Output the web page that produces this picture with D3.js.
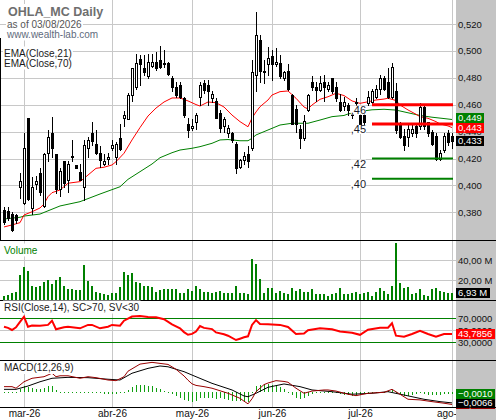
<!DOCTYPE html>
<html lang="es">
<head>
<meta charset="utf-8">
<title>OHLA_MC Daily</title>
<script src="https://d3js.org/d3.v7.min.js"></script>
<style>
  html, body { margin: 0; padding: 0; background: #fff; }
  svg { display: block; font-family: "Liberation Sans", Arial, sans-serif; }
</style>
</head>
<body>
<svg id="chart" width="496" height="420"></svg>
<script>
// ---- data (one entry per trading day, 23 feb .. 03 ago 2026) ----
const opens  = [.382,.381,.379,.378,.399,.387,.450,.383,.401,.409,.385,.424,.439,.423,.397,.418,.404,.421,.415,.410,
                .399,.428,.439,.431,.424,.416,.420,.428,.421,.435,.450,.449,.467,.473,.494,.487,.481,.489,.492,.493,
                .490,.491,.480,.473,.475,.465,.446,.443,.447,.466,.476,.475,.465,.463,.454,.444,.439,.439,.431,.414,
                .419,.423,.428,.482,.508,.484,.490,.496,.490,.491,.480,.485,.467,.457,.442,.435,.456,.477,.473,.471,
                .477,.472,.480,.473,.462,.459,.460,.456,.461,.452,.452,.461,.462,.466,.472,.480,.477,.466,.470,.445,
                .437,.436,.439,.444,.444,.458,.447,.440,.437,.420,.426,.439,.437];
const highs  = [.384,.384,.380,.379,.409,.439,.450,.406,.407,.413,.424,.441,.451,.423,.413,.418,.418,.434,.415,.416,
                .434,.436,.447,.441,.429,.423,.424,.434,.432,.446,.455,.469,.487,.498,.497,.497,.498,.498,.499,.504,
                .501,.492,.481,.477,.477,.466,.450,.449,.454,.477,.478,.478,.470,.465,.456,.451,.445,.440,.432,.420,
                .425,.429,.493,.529,.512,.493,.503,.501,.502,.497,.485,.490,.468,.460,.445,.452,.468,.481,.477,.481,
                .482,.477,.480,.477,.468,.466,.461,.457,.465,.457,.456,.470,.472,.475,.482,.481,.487,.491,.476,.447,
                .442,.445,.445,.445,.461,.460,.447,.441,.439,.426,.439,.441,.439];
const lows   = [.371,.374,.366,.372,.391,.386,.389,.379,.397,.393,.384,.418,.421,.394,.392,.399,.395,.418,.413,.404,
                .389,.421,.430,.423,.414,.415,.416,.426,.416,.426,.444,.449,.463,.472,.475,.482,.480,.488,.486,.487,
                .488,.482,.470,.466,.465,.451,.436,.441,.442,.460,.469,.460,.462,.450,.440,.440,.436,.432,.409,.413,
                .416,.414,.426,.470,.477,.476,.482,.478,.489,.480,.478,.471,.446,.440,.428,.434,.455,.471,.463,.470,
                .463,.470,.469,.463,.455,.456,.452,.450,.456,.446,.446,.460,.461,.465,.468,.471,.465,.465,.439,.435,
                .426,.429,.437,.436,.442,.442,.437,.430,.419,.419,.425,.430,.428];
const closes = [.373,.376,.367,.374,.403,.428,.390,.399,.403,.395,.423,.436,.428,.397,.411,.402,.416,.422,.413,.404,
                .430,.434,.433,.424,.419,.418,.421,.430,.431,.427,.452,.467,.487,.491,.490,.484,.492,.492,.487,.488,
                .491,.483,.473,.467,.466,.452,.441,.444,.452,.475,.471,.470,.468,.450,.443,.449,.443,.434,.413,.419,
                .422,.418,.484,.512,.485,.485,.495,.490,.492,.481,.484,.472,.446,.446,.435,.448,.467,.473,.471,.476,
                .473,.475,.470,.465,.456,.462,.456,.452,.462,.446,.447,.466,.470,.472,.480,.472,.466,.488,.441,.436,
                .430,.442,.442,.439,.458,.444,.439,.431,.420,.424,.437,.432,.433];
// volume in millions
const volumes = [4.3,5,6.7,8.3,25,33.3,29.3,14,13.3,14,18.3,20,16,20,23.3,14,11,11,10,10,
                 35,19.3,14,8.3,7.3,5.7,5,7.3,7.3,13.3,28.3,25,27.3,18.3,17.3,14,14,13.3,8.3,10,
                 10.7,10.7,10.7,10.7,7.3,7.3,10.7,9,14,10.7,8.3,8.3,7.3,8.3,9,7.3,7.3,6.7,14,6.7,
                 6.7,6,41,35.7,21,7.3,11.7,11.7,7.3,9,6.7,5.7,11.7,9.3,10.7,8.3,7.7,10.7,6,6,
                 6,4.3,6,7.3,11.7,5.7,5.7,6.7,8.3,5.7,6.7,8.3,4.3,8.3,11.7,9.3,6,14,56.7,17.3,
                 11.7,13.3,5.7,7.3,10.7,5,4.3,10.7,11.7,9,8.3,6.7,6.93];
const macdHist = [.0003,.0003,.0003,.0005,.0020,.0038,.0034,.0027,.0021,.0021,.0027,.0038,.0042,.0017,.0006,.0002,.0001,0,-.0002,-.0004,
                  .0002,.0004,.0004,.0002,-.0002,-.0008,-.0008,-.0008,-.0008,-.0006,.0006,.0017,.0034,.0046,.0049,.0046,.0042,.0038,.0027,.0021,
                  .0011,0,-.0008,-.0025,-.0036,-.0046,-.0057,-.0063,-.0051,-.0036,-.0036,-.0036,-.0036,-.0042,-.0036,-.0042,-.0046,-.0051,-.0057,-.0057,
                  -.0057,-.0060,0,.0038,.0049,.0053,.0053,.0049,.0042,.0034,.0021,.0006,-.0015,-.0036,-.0042,-.0036,-.0021,-.0008,-.0004,.0004,
                  .0004,-.0004,-.0004,-.0004,-.0008,-.0015,-.0017,-.0021,-.0015,-.0015,-.0004,.0004,.0002,.0004,.0002,.0006,.0011,.0017,-.0004,-.0015,
                  -.0025,-.0021,-.0015,-.0011,-.0004,-.0008,-.0013,-.0013,-.0017,-.0013,-.0011,-.0008,-.0010];

// indicator lines, [day index, value]
const ema21 = [[0,.3691],[2,.3706],[4,.3723],[5,.3780],[7,.3804],[9,.3832],[10,.3862],[11,.3916],[12,.3946],[14,.3966],
  [16,.4016],[19,.4028],[21,.4077],[23,.4127],[25,.4135],[27,.4152],[28,.4176],[30,.4239],[32,.4338],[34,.4430],
  [36,.4516],[38,.4575],[40,.4620],[42,.4650],[44,.4650],[46,.4628],[48,.4601],[49,.4590],[51,.4620],[53,.4615],
  [55,.4583],[57,.4523],[59,.4474],[61,.4436],[62,.4501],[63,.4546],[64,.4585],[66,.4635],[67,.4672],[69,.4697],
  [71,.4702],[73,.4648],[75,.4583],[76,.4568],[77,.4598],[79,.4640],[81,.4659],[83,.4685],[85,.4668],[87,.4628],
  [89,.4610],[91,.4622],[93,.4635],[95,.4642],[96,.4648],[98,.4631],[99,.4598],[101,.4561],[103,.4529],[104,.4511],
  [106,.4499],[108,.4474],[109,.4457],[111,.4442],[112,.4430]];
const ema70 = [[0,.3750],[4,.3763],[5,.3772],[9,.3787],[14,.3847],[19,.3879],[24,.3936],[29,.3990],[31,.4045],[34,.4102],
  [37,.4159],[39,.4206],[42,.4243],[44,.4263],[47,.4276],[49,.4288],[52,.4313],[54,.4338],[56,.4341],[59,.4332],
  [61,.4332],[62,.4350],[63,.4375],[66,.4412],[69,.4449],[72,.4462],[76,.4462],[79,.4486],[82,.4511],[85,.4520],
  [86,.4531],[89,.4550],[92,.4562],[95,.4566],[98,.4560],[101,.4540],[104,.4520],[107,.4507],[110,.4497],[112,.4490]];
const rsi = [[0,56],[1,54],[2,50.5],[3,55],[4,64],[5,72.7],[6,56],[7,58],[9,57.7],[11,59],[12,66],[13,51.7],[15,55],
  [16,56],[19,53.3],[21,59],[22,59],[24,53.3],[26,56],[27,59],[29,57.7],[30,66],[32,73],[34,74],[36,72],[38,71.7],
  [40,68.5],[42,60],[44,53.3],[45,47],[46,42.5],[47,44],[48,48],[49,57],[50,54],[52,52],[53,46.5],[55,43.5],[56,41],
  [58,33.8],[59,36],[60,38.3],[61,40],[62,59],[63,67],[64,60.5],[66,60],[69,59],[71,55.5],[73,44],[75,44.5],[76,50],
  [79,53.3],[82,51.7],[84,48],[87,46],[89,42.5],[91,51],[94,54.3],[96,54.3],[97,61.7],[98,41],[100,39.3],[102,43.8],
  [104,49.3],[106,43.8],[108,39.3],[110,43.8],[112,43.7856]];
const macd = [[0,.0037],[2,.0037],[3,.0027],[5,.0068],[7,.0090],[10,.0100],[12,.0122],[13,.0100],[14,.0106],[16,.0106],
  [19,.0090],[21,.0100],[23,.0094],[26,.0079],[28,.0075],[30,.0100],[31,.0135],[34,.0180],[37,.0191],[41,.0178],
  [43,.0147],[45,.0105],[46,.0078],[47,.0055],[48,.0045],[50,.0037],[52,.0027],[56,-.0005],[59,-.0037],[60,-.0055],
  [61,-.0072],[62,-.0040],[63,.0005],[65,.0050],[66,.0060],[68,.0075],[70,.0070],[71,.0065],[73,.0027],[75,-.0005],
  [77,.0009],[80,.0016],[81,.0016],[83,.0009],[86,-.0011],[88,-.0020],[91,-.0005],[95,.0001],[97,.0020],[99,-.0011],
  [101,-.0043],[104,-.0047],[107,-.0058],[110,-.0068],[112,-.0076]];
const macdSignal = [[0,.0020],[3,.0020],[6,.0041],[9,.0068],[12,.0090],[16,.0096],[21,.0094],[26,.0084],[29,.0079],
  [32,.0122],[36,.0153],[39,.0168],[41,.0163],[45,.0132],[48,.0100],[52,.0058],[57,.0016],[60,-.0022],[61,-.0027],
  [63,-.0005],[66,.0033],[70,.0054],[74,.0037],[77,.0016],[82,.0005],[87,-.0011],[92,-.0005],[96,.0005],[100,-.0016],
  [105,-.0043],[109,-.0058],[112,-.0066]];

// support / resistance lines drawn from day 92 to the end
const levelValues = [0.460, 0.4457, 0.420, 0.405];
const levelLabels = [",46", ",45", ",42", ",40"];
const levelKinds  = ["res", "res", "sup", "sup"];
const levelStart = 92;

const monthLabels = ["mar-26", "abr-26", "may-26", "jun-26", "jul-26", "ago-26"];
const monthStarts = [5, 27, 47, 67, 89, 112];
const priceTicks = [0.38, 0.40, 0.42, 0.44, 0.46, 0.48, 0.50, 0.52];
const volumeTicks = [20, 40];
const rsiTicks = [30, 50, 70];

// ---- layout ----
const W = 496, H = 420, plotR = 456;
const pane = { price: [0, 240], vol: [240, 300], rsi: [300, 360], macd: [360, 407] };

const svg = d3.select("#chart");
const loc = d3.formatLocale({ decimal: ",", thousands: ".", grouping: [3], currency: ["", ""] });
const f2 = loc.format(".2f"), f3 = loc.format(".3f"), f4 = loc.format(".4f");

const last = closes.length - 1;
const x = d3.scaleLinear().domain([0, last]).range([4, 452]);
const yPrice = d3.scaleLinear().domain([0.38, 0.52]).range([212.3, 24]);
const yVol = d3.scaleLinear().domain([0, 40]).range([300, 260]);
const yRsi = d3.scaleLinear().domain([0, 100]).range([360.3, 300.3]);
const yMacd = d3.scaleLinear().domain([-0.0092, 0.0206]).range([407, 360]);

const candles = d3.range(closes.length).map(i => ({ i, o: opens[i], h: highs[i], l: lows[i], c: closes[i] }));

svg.append("rect").attr("width", W).attr("height", H).attr("fill", "#fff");

const defs = svg.append("defs");
Object.entries(pane).forEach(([k, [t, b]]) => {
  defs.append("clipPath").attr("id", "clip-" + k)
    .append("rect").attr("x", 0).attr("y", t + 1).attr("width", plotR).attr("height", b - t - 1);
});

// ---- grid ----
const grid = svg.append("g").attr("stroke", "#c8c8c8").attr("stroke-width", 1);
monthStarts.forEach(i => {
  const gx = Math.round(x(i)) + 0.5;
  grid.append("line").attr("x1", gx).attr("x2", gx).attr("y1", 0).attr("y2", 407);
});
priceTicks.forEach(v => {
  const gy = Math.round(yPrice(v)) + 0.5;
  grid.append("line").attr("x1", 0).attr("x2", plotR).attr("y1", gy).attr("y2", gy);
});
volumeTicks.forEach(v => {
  const gy = Math.round(yVol(v)) + 0.5;
  grid.append("line").attr("x1", 0).attr("x2", plotR).attr("y1", gy).attr("y2", gy);
});
{
  const gy = Math.round(yRsi(50)) + 0.5;
  grid.append("line").attr("x1", 0).attr("x2", plotR).attr("y1", gy).attr("y2", gy);
}
[30, 70].forEach(v => {
  const gy = Math.round(yRsi(v)) + 0.5;
  svg.append("line").attr("x1", 0).attr("x2", plotR).attr("y1", gy).attr("y2", gy)
    .attr("stroke", "#008000");
});

// ---- price pane ----
const gPrice = svg.append("g").attr("clip-path", "url(#clip-price)");
const lineOf = ys => d3.line().x(d => x(d[0])).y(d => ys(d[1]));

gPrice.append("path").datum(ema70).attr("d", lineOf(yPrice))
  .attr("fill", "none").attr("stroke", "#008000").attr("stroke-width", 1);
gPrice.append("path").datum(ema21).attr("d", lineOf(yPrice))
  .attr("fill", "none").attr("stroke", "#ff0000").attr("stroke-width", 1);

const cg = gPrice.selectAll("g.candle").data(candles).join("g").attr("class", "candle");
cg.append("line")
  .attr("x1", d => Math.round(x(d.i)) + 0.5).attr("x2", d => Math.round(x(d.i)) + 0.5)
  .attr("y1", d => Math.round(yPrice(d.h))).attr("y2", d => Math.round(yPrice(d.l)) + 1)
  .attr("stroke", "#000");
cg.append("rect")
  .attr("x", d => Math.round(x(d.i)) - 0.5)
  .attr("y", d => Math.round(yPrice(Math.max(d.o, d.c))) + 0.5)
  .attr("width", 2)
  .attr("height", d => Math.max(1, Math.round(yPrice(Math.min(d.o, d.c))) - Math.round(yPrice(Math.max(d.o, d.c)))))
  .attr("fill", d => d.c >= d.o ? "#fff" : "#000")
  .attr("stroke", "#000");

levelValues.forEach((v, k) => {
  const ly = yPrice(v);
  const res = levelKinds[k] === "res";
  gPrice.append("line")
    .attr("x1", x(levelStart)).attr("x2", x(last) + 1)
    .attr("y1", ly).attr("y2", ly)
    .attr("stroke", res ? "#ff0000" : "#008000")
    .attr("stroke-width", res ? 3 : 2);
  const lg = gPrice.append("g");
  const t = lg.append("text")
    .attr("x", x(levelStart) - 6).attr("y", ly + 9)
    .attr("text-anchor", "end").attr("font-size", 11).attr("fill", "#1a1a2a")
    .text(levelLabels[k]);
  const bb = t.node().getBBox();
  lg.insert("rect", "text").attr("x", bb.x).attr("y", bb.y + 2)
    .attr("width", bb.width).attr("height", bb.height - 3).attr("fill", "#fff");
});

// ---- volume ----
svg.append("g").attr("clip-path", "url(#clip-vol)")
  .selectAll("rect").data(volumes).join("rect")
  .attr("x", (d, i) => Math.round(x(i)) - 1)
  .attr("y", d => Math.round(yVol(d)))
  .attr("width", 2)
  .attr("height", d => 300 - Math.round(yVol(d)))
  .attr("fill", "#008000");

// ---- RSI ----
svg.append("g").attr("clip-path", "url(#clip-rsi)")
  .append("path").datum(rsi).attr("d", lineOf(yRsi))
  .attr("fill", "none").attr("stroke", "#ff0000").attr("stroke-width", 2);

// ---- MACD ----
const gMacd = svg.append("g").attr("clip-path", "url(#clip-macd)");
const zeroY = Math.round(yMacd(0));
gMacd.selectAll("rect").data(macdHist).join("rect")
  .attr("x", (d, i) => Math.round(x(i)))
  .attr("y", d => d >= 0 ? Math.round(yMacd(d)) : zeroY)
  .attr("width", 1)
  .attr("height", d => Math.max(1, Math.abs(Math.round(yMacd(d)) - zeroY)))
  .attr("fill", "#10a010");
gMacd.append("path").datum(macdSignal).attr("d", lineOf(yMacd))
  .attr("fill", "none").attr("stroke", "#000").attr("stroke-width", 1);
gMacd.append("path").datum(macd).attr("d", lineOf(yMacd))
  .attr("fill", "none").attr("stroke", "#990000").attr("stroke-width", 1);

// ---- x axis labels ----
svg.append("g").attr("transform", "translate(0,407)")
  .call(d3.axisBottom(x).tickValues(monthStarts).tickSize(0).tickPadding(3)
    .tickFormat((d, k) => monthLabels[k]))
  .call(g => g.select(".domain").remove())
  .attr("font-family", null).attr("font-size", 10)
  .selectAll("text").attr("fill", "#111");

// ---- right column ----
svg.append("rect").attr("x", plotR).attr("y", 0).attr("width", W - plotR).attr("height", H).attr("fill", "#c4c4c4");

const borders = svg.append("g").attr("stroke", "#000");
[240, 300, 360, 407].forEach(b => {
  borders.append("line").attr("x1", 0).attr("x2", W).attr("y1", b + 0.5).attr("y2", b + 0.5);
});
borders.append("line").attr("x1", 0.5).attr("x2", 0.5).attr("y1", 38).attr("y2", 240);

function rightAxis(scale, ticks, fmt) {
  svg.append("g").attr("transform", `translate(${plotR + 1},0)`)
    .call(d3.axisRight(scale).tickValues(ticks).tickSize(0).tickPadding(1).tickFormat(fmt))
    .call(g => g.select(".domain").remove())
    .attr("font-family", null).attr("font-size", 9.5)
    .selectAll("text").attr("fill", "#111");
}
rightAxis(yPrice, priceTicks, f3);
rightAxis(yVol, volumeTicks, d => f2(d) + " M");
rightAxis(yRsi, rsiTicks, f4);

function badge(yc, text, fill) {
  const g = svg.append("g");
  const r = g.append("rect").attr("x", plotR).attr("y", Math.round(yc - 5)).attr("height", 10).attr("fill", fill);
  const t = g.append("text").attr("x", plotR + 2).attr("y", yc).attr("dy", "0.35em")
    .attr("font-size", 9.5).attr("fill", "#fff").text(text);
  r.attr("width", Math.ceil(t.node().getComputedTextLength()) + 4);
}

// price badges, pushed apart so they do not overlap
const lastOf = a => a[a.length - 1][1];
const priceBadges = [
  { v: lastOf(ema70), fill: "#008000" },
  { v: lastOf(ema21), fill: "#ff0000" },
  { v: closes[last], fill: "#000" }
].map(b => ({ ...b, y: yPrice(b.v) })).sort((a, b) => b.y - a.y);
for (let k = 1; k < priceBadges.length; k++) {
  priceBadges[k].y = Math.min(priceBadges[k].y, priceBadges[k - 1].y - 10);
}
priceBadges.forEach(b => badge(b.y, f3(b.v), b.fill));

badge(yVol(volumes[last]), f2(volumes[last]) + " M", "#000");
badge(yRsi(lastOf(rsi)), f4(lastOf(rsi)), "#ff0000");
badge(yMacd(lastOf(macd)), f4(lastOf(macd)), "#990000");
badge(yMacd(lastOf(macdSignal)), f4(lastOf(macdSignal)), "#000");
badge(yMacd(macdHist[last]), f4(macdHist[last]), "#008000");

// ---- text labels with white backing (all backings first, then the texts) ----
const labelBg = svg.append("g"), labelFg = svg.append("g");
function label(tx, ty, text, size, color, weight) {
  const t = labelFg.append("text").attr("x", tx).attr("y", ty)
    .attr("font-size", size).attr("fill", color).attr("font-weight", weight || "normal").text(text);
  const bb = t.node().getBBox();
  labelBg.append("rect").attr("x", bb.x - 1).attr("y", bb.y - 1)
    .attr("width", bb.width + 2).attr("height", bb.height + 2).attr("fill", "#fff");
}
label(8, 16, "OHLA_MC Daily", 12.5, "#6e6e6e", "bold");
label(7, 27.5, "as of 03/08/2026", 10, "#555");
label(7, 37.5, "www.wealth-lab.com", 10, "#5f6b7d");
label(4, 56.5, "EMA(Close,21)", 10, "#1a1a1a");
label(4, 66.5, "EMA(Close,70)", 10, "#1a1a1a");
label(4, 253.5, "Volume", 10, "#008000");
label(4, 310.5, "RSI(Close,14), SC>70, SV<30", 10, "#1a1a1a");
label(4, 371, "MACD(12,26,9)", 10, "#1a1a1a");
</script>
</body>
</html>
